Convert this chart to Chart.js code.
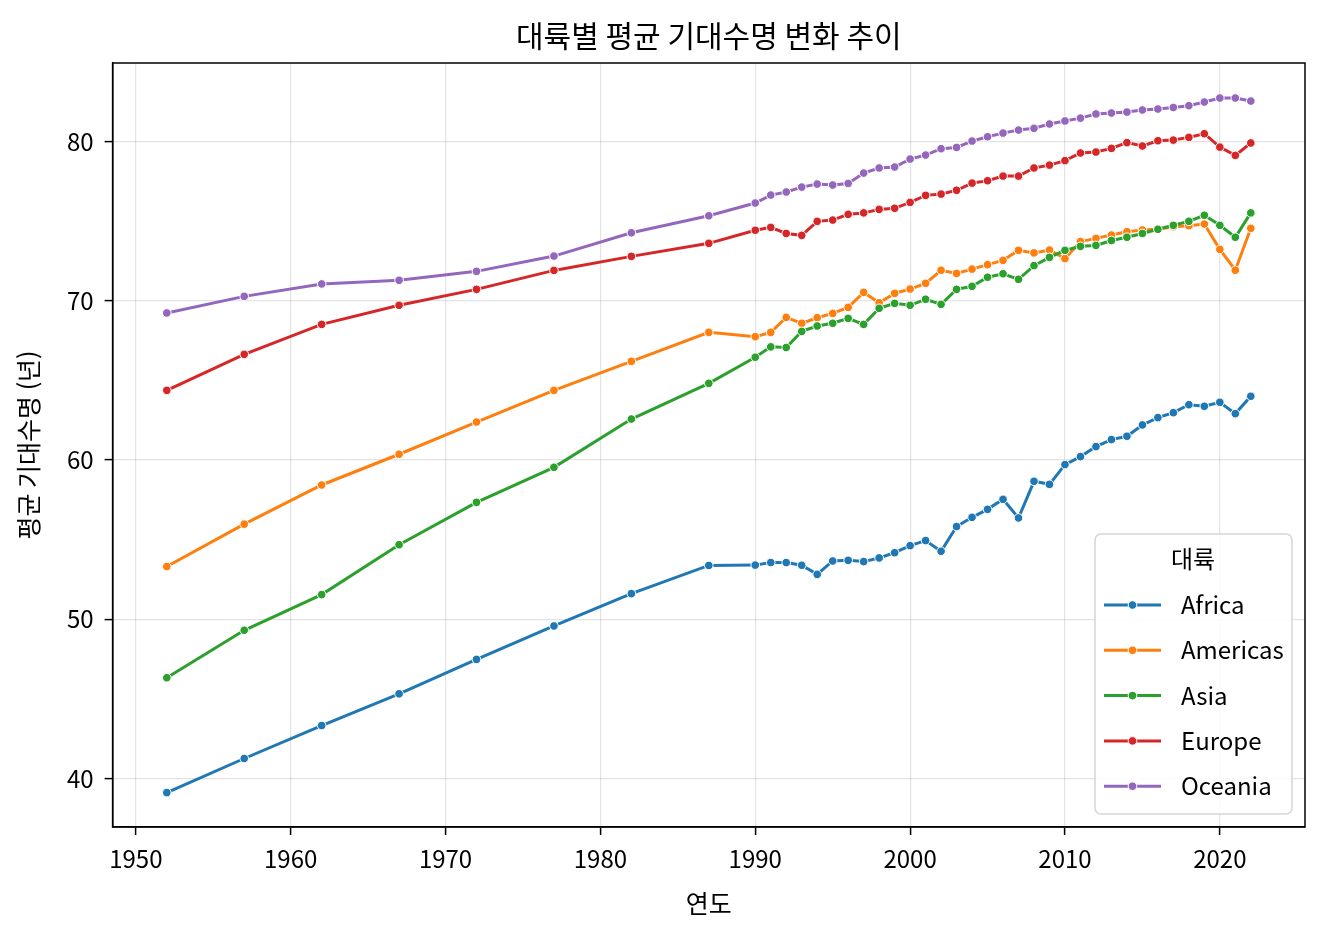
<!DOCTYPE html>
<html lang="ko">
<head>
<meta charset="utf-8">
<title>대륙별 평균 기대수명 변화 추이</title>
<script src="https://cdn.jsdelivr.net/npm/chart.js@4.4.1/dist/chart.umd.min.js"></script>
<style>
  html, body { margin: 0; padding: 0; background: #fff; }
  #wrap { width: 1324px; height: 940px; }
</style>
</head>
<body>
<div id="wrap"><canvas id="myChart" width="1324" height="940"></canvas></div>
<script>
const FONT = "'Noto Sans CJK KR', 'Noto Sans', sans-serif";

// data
const years = [1952, 1957, 1962, 1967, 1972, 1977, 1982, 1987,
  1990, 1991, 1992, 1993, 1994, 1995, 1996, 1997, 1998, 1999,
  2000, 2001, 2002, 2003, 2004, 2005, 2006, 2007, 2008, 2009,
  2010, 2011, 2012, 2013, 2014, 2015, 2016, 2017, 2018, 2019,
  2020, 2021, 2022];

const africa = [39.12, 41.26, 43.33, 45.32, 47.48, 49.58, 51.61, 53.38,
  53.40, 53.56, 53.56, 53.39, 52.82, 53.66, 53.70, 53.62, 53.85, 54.18,
  54.62, 54.94, 54.27, 55.82, 56.40, 56.90, 57.53, 56.36, 58.66, 58.47,
  59.71, 60.21, 60.84, 61.28, 61.49, 62.20, 62.66, 62.97, 63.47, 63.37,
  63.62, 62.91, 64.00];

const americas = [53.31, 55.97, 58.43, 60.36, 62.38, 64.37, 66.19, 68.01,
  67.74, 68.01, 68.95, 68.58, 68.93, 69.20, 69.58, 70.52, 69.87, 70.46,
  70.73, 71.09, 71.91, 71.71, 71.98, 72.26, 72.53, 73.16, 73.00, 73.18,
  72.64, 73.71, 73.91, 74.12, 74.33, 74.44, 74.48, 74.64, 74.71, 74.81,
  73.22, 71.91, 74.54];

const asia = [46.33, 49.31, 51.55, 54.68, 57.34, 59.54, 62.57, 64.81,
  66.45, 67.10, 67.06, 68.07, 68.41, 68.58, 68.89, 68.51, 69.52, 69.83,
  69.71, 70.09, 69.77, 70.71, 70.90, 71.47, 71.69, 71.34, 72.20, 72.72,
  73.16, 73.41, 73.47, 73.78, 73.98, 74.22, 74.48, 74.73, 74.98, 75.36,
  74.73, 73.98, 75.51];

const europe = [64.37, 66.63, 68.51, 69.71, 70.71, 71.90, 72.78, 73.60,
  74.42, 74.60, 74.22, 74.10, 74.98, 75.06, 75.42, 75.51, 75.73, 75.80,
  76.17, 76.61, 76.69, 76.93, 77.38, 77.53, 77.82, 77.82, 78.33, 78.51,
  78.79, 79.27, 79.33, 79.56, 79.92, 79.71, 80.04, 80.08, 80.25, 80.48,
  79.64, 79.12, 79.90];

const oceania = [69.23, 70.27, 71.05, 71.28, 71.84, 72.80, 74.26, 75.33,
  76.13, 76.63, 76.82, 77.13, 77.32, 77.26, 77.36, 78.01, 78.33, 78.39,
  78.89, 79.14, 79.54, 79.62, 80.02, 80.29, 80.52, 80.71, 80.82, 81.09,
  81.28, 81.46, 81.72, 81.78, 81.84, 81.97, 82.03, 82.13, 82.24, 82.47,
  82.72, 82.72, 82.53];

const continents = ["Africa", "Americas", "Asia", "Europe", "Oceania"];
const colors = ["#1f77b4", "#ff7f0e", "#2ca02c", "#d62728", "#9467bd"];
const seriesList = [africa, americas, asia, europe, oceania];

const xTicks = [1950, 1960, 1970, 1980, 1990, 2000, 2010, 2020];
const yTicks = [40, 50, 60, 70, 80];

const ctx = document.getElementById("myChart");

let datasets = [];
seriesList.forEach((vals, i) => {
  datasets.push({
    label: continents[i],
    data: years.map((yr, j) => ({ x: yr, y: vals[j] })),
    borderColor: colors[i],
    backgroundColor: colors[i],
    borderWidth: 3,
    pointRadius: 4.3,
    pointBorderColor: "#ffffff",
    pointBorderWidth: 1,
    pointBackgroundColor: colors[i],
    pointHoverRadius: 4.3,
    tension: 0,
    order: seriesList.length - i   // later series on top, like matplotlib
  });
});

// frame + legend box inside the axes
const framePlugin = {
  id: "frame",
  afterDraw(chart) {
    const c = chart.ctx;
    const a = chart.chartArea;
    c.save();
    c.strokeStyle = "#000";
    c.lineWidth = 1.5;
    c.strokeRect(a.left, a.top, a.right - a.left, a.bottom - a.top);

    // legend
    const bx = 1095, by = 534, bw = 197, bh = 280;
    c.beginPath();
    c.roundRect(bx, by, bw, bh, 6);
    c.fillStyle = "rgba(255,255,255,0.85)";
    c.fill();
    c.strokeStyle = "#d6d6d6";
    c.lineWidth = 1.5;
    c.stroke();

    c.fillStyle = "#000";
    c.font = "24px " + FONT;
    c.textAlign = "center";
    c.textBaseline = "middle";
    c.fillText("대륙", 1193, 559);

    c.textAlign = "left";
    chart.data.datasets.forEach((ds, i) => {
      const ry = 605 + i * 45.3;
      c.strokeStyle = ds.borderColor;
      c.lineWidth = 3;
      c.beginPath();
      c.moveTo(1104, ry);
      c.lineTo(1161, ry);
      c.stroke();
      c.beginPath();
      c.arc(1132.5, ry, 4.3, 0, Math.PI * 2);
      c.fillStyle = ds.borderColor;
      c.fill();
      c.strokeStyle = "#fff";
      c.lineWidth = 1;
      c.stroke();
      c.fillStyle = "#000";
      c.fillText(ds.label, 1181, ry);
    });
    c.restore();
  }
};

new Chart(ctx, {
  type: "line",
  data: { datasets: datasets },
  plugins: [framePlugin],
  options: {
    responsive: false,
    animation: false,
    events: [],
    layout: { padding: { left: 0, right: 19, top: 0, bottom: 0 } },
    plugins: {
      legend: { display: false },
      tooltip: { enabled: false },
      title: {
        display: true,
        fullSize: false,
        text: "대륙별 평균 기대수명 변화 추이",
        color: "#000",
        font: { family: FONT, size: 30, weight: "normal" },
        padding: { top: 18, bottom: 9 }
      }
    },
    scales: {
      x: {
        type: "linear",
        min: 1948.5,
        max: 2025.5,
        afterBuildTicks: (s) => { s.ticks = xTicks.map(v => ({ value: v })); },
        afterFit: (s) => { s.height = 113; },
        ticks: {
          color: "#000",
          font: { family: FONT, size: 24 },
          padding: 9,
          maxRotation: 0,
          callback: (v) => String(v)
        },
        grid: {
          color: "rgba(176,176,176,0.35)",
          lineWidth: 1.2,
          tickColor: "#000",
          tickLength: 8,
          tickWidth: 1.5
        },
        border: { color: "#000", width: 1.5 },
        title: {
          display: true,
          text: "연도",
          color: "#000",
          font: { family: FONT, size: 25 },
          padding: { top: 0, bottom: 22 }
        }
      },
      y: {
        type: "linear",
        min: 36.96,
        max: 84.92,
        afterBuildTicks: (s) => { s.ticks = yTicks.map(v => ({ value: v })); },
        afterFit: (s) => { s.width = 112.6; },
        ticks: {
          color: "#000",
          font: { family: FONT, size: 24 },
          padding: 11,
          callback: (v) => String(v)
        },
        grid: {
          color: "rgba(176,176,176,0.35)",
          lineWidth: 1.2,
          tickColor: "#000",
          tickLength: 8,
          tickWidth: 1.5
        },
        border: { color: "#000", width: 1.5 },
        title: {
          display: true,
          text: "평균 기대수명 (년)",
          color: "#000",
          font: { family: FONT, size: 25 },
          padding: { top: 13, bottom: 0 }
        }
      }
    }
  }
});
</script>
</body>
</html>
